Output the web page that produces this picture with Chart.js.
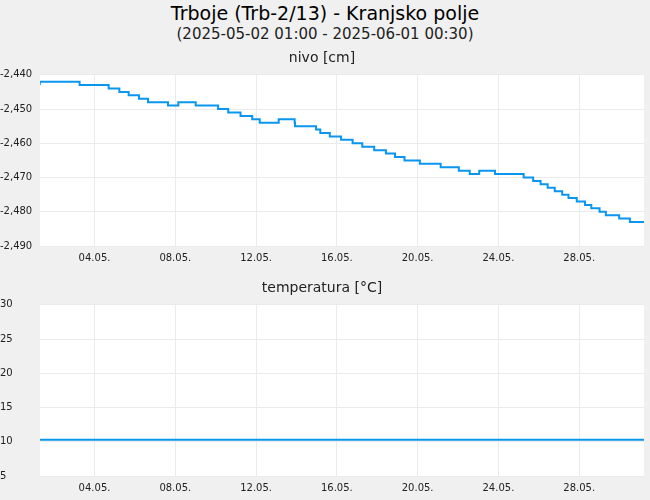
<!DOCTYPE html><html><head><meta charset="utf-8">
<script src="https://cdn.jsdelivr.net/npm/chart.js@4/dist/chart.umd.min.js"></script>
<style>body{margin:0;background:#f0f0f0;width:650px;height:500px;overflow:hidden;font-family:"DejaVu Sans"}
#h1{position:absolute;top:2px;width:650px;text-align:center;font-size:19px;color:#000}
#h2{position:absolute;top:25px;width:650px;text-align:center;font-size:15px;color:#222}
canvas{position:absolute;left:0}</style></head><body>
<div id="h1">Trboje (Trb-2/13) - Kranjsko polje</div>
<div id="h2">(2025-05-02 01:00 - 2025-06-01 00:30)</div>
<canvas id="c1" style="top:48px" width="650" height="222"></canvas>
<canvas id="c2" style="top:278px" width="650" height="222"></canvas>
<script>
// days since 2025-05-01 00:00
const levelDays=[0.29,2.26,3.70,4.23,4.69,5.20,5.65,6.64,7.15,8.01,9.12,9.62,10.23,10.81,11.18,12.12,12.91,12.93,13.97,14.18,14.65,15.21,15.78,16.26,16.85,17.43,17.88,18.35,19.11,20.14,21.04,21.58,22.05,22.83,24.25,24.72,25.09,25.44,25.79,26.16,26.47,26.88,27.29,27.60,28.01,28.32,28.98,29.51,30.09,30.23];
const levels=[-2443,-2442,-2443,-2444,-2445,-2446,-2447,-2448,-2449,-2448,-2449,-2450,-2451,-2452,-2453,-2454,-2453,-2454,-2455,-2456,-2457,-2458,-2459,-2460,-2461,-2462,-2463,-2464,-2465,-2466,-2467,-2468,-2469,-2468,-2469,-2470,-2471,-2472,-2473,-2474,-2475,-2476,-2477,-2478,-2479,-2480,-2481,-2482,-2483,-2483];
const tempDays=[0.29,30.23];
const temps=[10.3,10.3];
const tickDays=[3,7,11,15,19,23,27];
const tickLabels=['04.05.','08.05.','12.05.','16.05.','20.05.','24.05.','28.05.'];
const X_MIN=0.30,X_MAX=30.21;
Chart.defaults.font.family='"DejaVu Sans"';
Chart.defaults.animation=false;
const bg={id:'bg',beforeDraw(c){const a=c.chartArea,x=c.ctx;x.save();x.fillStyle='#fff';x.fillRect(a.left,a.top,a.right-a.left,a.bottom-a.top);x.restore();}};
function mk(id,days,vals,title,ymin,ymax,step){
 new Chart(document.getElementById(id),{type:'line',
 data:{datasets:[{data:days.map((d,i)=>({x:d,y:vals[i]})),borderColor:'#0a96ee',borderWidth:2,pointRadius:0,stepped:'after'}]},
 options:{responsive:false,layout:{padding:{right:6,top:0}},
  plugins:{legend:{display:false},tooltip:{enabled:false},title:{display:true,text:title,color:'#222',font:{size:14,weight:'normal'},padding:{top:2,bottom:8}}},
  scales:{x:{type:'linear',min:X_MIN,max:X_MAX,grid:{color:'#ebebeb',drawTicks:false},border:{display:false},
   afterBuildTicks(s){s.ticks=tickDays.map(v=>({value:v}));},
   ticks:{autoSkip:false,maxRotation:0,color:'#222',font:{size:10},padding:6,callback:(v)=>tickLabels[tickDays.indexOf(v)]}},
   y:{min:ymin,max:ymax,grid:{color:'#ebebeb',drawTicks:false},border:{display:false},afterFit(s){s.width=40;},
    ticks:{stepSize:step,color:'#222',font:{size:10},padding:4,crossAlign:'far'}}}},plugins:[bg]});
}
mk('c1',levelDays,levels,'nivo [cm]',-2490,-2440,10);
mk('c2',tempDays,temps,'temperatura [°C]',5,30,5);
</script></body></html>
